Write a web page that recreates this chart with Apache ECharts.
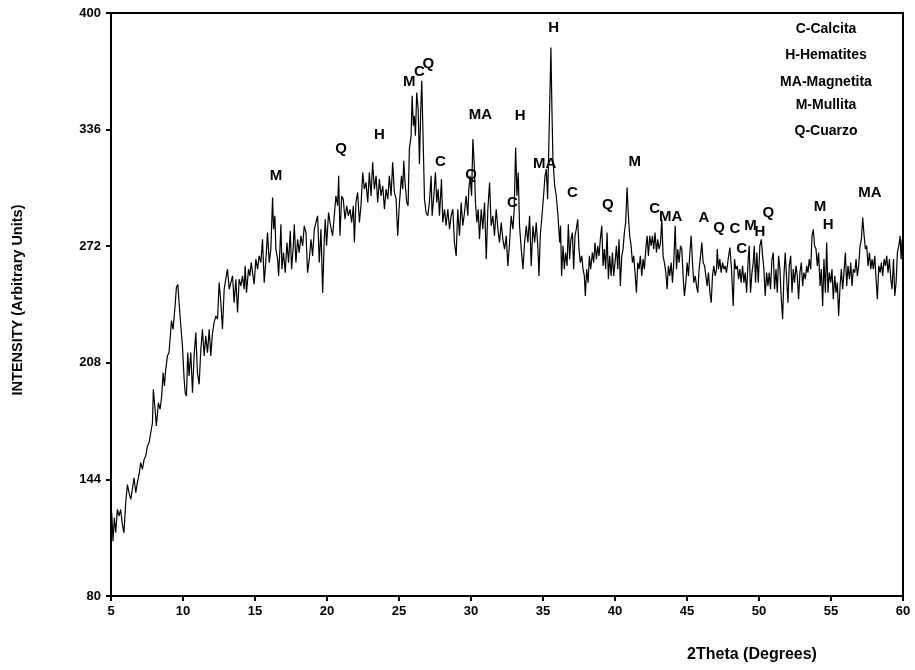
<!DOCTYPE html>
<html>
<head>
<meta charset="utf-8">
<script src="https://cdn.jsdelivr.net/npm/echarts@6/dist/echarts.min.js"></script>
<style>html,body{margin:0;padding:0;background:#fff}#c{width:915px;height:670px}</style>
</head>
<body>
<div id="c"></div>
<script>
// XRD pattern: [2Theta (deg), intensity (arbitrary units)]
const pattern = [
[5.05,125.7],[5.14,110.1],[5.23,123.0],[5.33,114.7],[5.44,127.5],[5.56,123.9],[5.67,127.5],[5.79,119.3],[5.90,114.7],[6.02,131.2],[6.14,141.2],[6.25,136.7],[6.37,133.0],[6.48,138.5],[6.60,144.9],[6.72,136.7],[6.83,142.2],[6.95,146.7],[7.06,153.2],[7.18,149.5],[7.30,155.0],[7.41,156.8],[7.53,162.3],[7.64,164.1],[7.76,169.6],[7.88,175.1],[7.94,193.4],[8.06,182.5],[8.15,173.3],[8.29,186.1],[8.41,182.5],[8.52,189.8],[8.62,202.6],[8.71,195.3],[8.80,204.4],[8.92,211.8],[9.03,213.6],[9.10,220.9],[9.20,231.0],[9.31,226.4],[9.45,239.2],[9.54,249.3],[9.64,251.1],[9.73,241.0],[9.85,228.2],[9.96,217.2],[10.08,198.9],[10.15,191.6],[10.24,189.8],[10.33,213.6],[10.42,200.8],[10.54,213.6],[10.66,191.6],[10.77,211.8],[10.89,224.6],[11.00,202.6],[11.12,196.2],[11.24,215.4],[11.35,226.4],[11.47,211.8],[11.58,222.8],[11.70,213.6],[11.82,226.4],[11.93,211.8],[12.05,224.6],[12.16,230.1],[12.28,233.7],[12.40,231.9],[12.51,252.0],[12.63,241.0],[12.74,226.4],[12.86,248.4],[12.97,253.9],[13.09,259.4],[13.21,248.4],[13.44,255.7],[13.55,241.0],[13.67,253.9],[13.79,235.6],
[13.90,253.9],[14.02,250.2],[14.13,255.7],[14.25,248.4],[14.32,261.2],[14.41,246.5],[14.55,259.4],[14.64,255.7],[14.74,263.0],[14.83,257.5],[14.94,251.1],[15.06,264.9],[15.18,259.4],[15.29,266.7],[15.41,263.0],[15.52,275.8],[15.64,252.0],[15.76,264.9],[15.87,279.5],[15.99,263.0],[16.10,270.4],[16.22,298.7],[16.29,281.3],[16.38,288.7],[16.45,270.4],[16.57,264.9],[16.64,255.7],[16.73,270.4],[16.80,284.1],[16.87,259.4],[16.98,268.5],[17.10,257.5],[17.22,274.0],[17.33,263.0],[17.45,280.4],[17.54,259.4],[17.66,272.2],[17.73,284.1],[17.84,263.0],[17.96,275.8],[18.07,268.5],[18.19,277.7],[18.31,272.2],[18.42,283.2],[18.54,279.5],[18.65,257.5],[18.77,264.9],[18.89,275.8],[19.00,266.7],[19.12,281.3],[19.23,285.0],[19.35,288.7],[19.46,263.0],[19.58,281.3],[19.70,246.5],[19.81,275.8],[19.88,286.8],[19.97,272.2],[20.11,290.5],[20.21,285.0],[20.30,281.3],[20.39,277.7],[20.51,277.7],[20.62,299.6],[20.74,294.2],[20.81,310.6],[20.90,277.7],[21.02,299.6],[21.13,297.8],[21.25,286.8],[21.37,294.2],[21.48,288.7],[21.60,292.3],[21.71,285.0],[21.83,294.2],[21.90,274.0],[22.01,296.0],[22.13,301.5],[22.25,285.0],[22.36,294.2],[22.48,312.5],[22.59,303.3],[22.71,307.0],[22.83,296.0],[22.94,312.5],[23.06,299.6],[23.17,318.0],[23.29,303.3],[23.41,310.6],[23.52,296.0],[23.64,308.8],[23.75,299.6],[23.87,305.1],[23.99,292.3],[24.10,303.3],[24.22,297.8],[24.33,310.6],[24.45,299.6],[24.56,318.0],[24.68,301.5],[24.80,297.8],[24.91,277.7],[25.03,296.0],
[25.07,299.7],[25.17,310.6],[25.26,303.3],[25.33,318.9],[25.42,307.0],[25.54,296.0],[25.63,294.2],[25.72,325.3],[25.84,332.6],[25.91,354.6],[26.00,338.1],[26.07,343.6],[26.14,332.6],[26.23,356.4],[26.33,347.3],[26.42,317.0],[26.51,347.3],[26.58,362.8],[26.67,332.6],[26.77,297.8],[26.88,290.5],[27.00,288.7],[27.11,296.0],[27.23,310.6],[27.30,288.7],[27.42,299.7],[27.53,312.5],[27.62,296.0],[27.72,303.3],[27.81,288.7],[27.95,308.8],[28.04,285.0],[28.16,292.3],[28.27,283.2],[28.39,292.3],[28.51,281.3],[28.62,288.7],[28.74,292.3],[28.85,274.0],[28.97,266.7],[29.08,292.3],[29.20,277.7],[29.32,296.0],[29.43,283.2],[29.55,290.5],[29.66,299.7],[29.78,288.7],[29.85,303.3],[29.94,310.6],[30.04,299.7],[30.13,330.8],[30.24,314.3],[30.31,296.0],[30.41,285.0],[30.50,292.3],[30.59,275.8],[30.71,292.3],[30.82,281.3],[30.94,296.0],[31.06,264.9],[31.17,292.3],[31.29,307.0],[31.40,283.2],[31.52,288.7],[31.63,277.7],[31.75,292.3],[31.87,281.3],[31.98,274.0],[32.10,285.0],[32.21,275.8],[32.33,270.4],[32.45,277.7],[32.56,261.2],[32.68,274.0],[32.79,288.7],[32.91,281.3],[33.00,292.3],[33.10,326.2],[33.19,299.7],[33.28,312.5],[33.37,283.2],[33.49,270.4],[33.61,259.4],[33.72,274.0],[33.84,283.2],[33.95,274.0],[34.07,288.7],[34.18,261.2],[34.30,283.2],[34.42,274.0],[34.53,285.0],[34.65,270.4],[34.72,255.7],[34.81,277.7],[34.93,288.7],[35.04,299.7],[35.14,310.6],[35.23,314.3],[35.32,297.8],[35.41,329.0],[35.51,365.6],[35.55,381.1],[35.62,347.3],[35.69,319.8],[35.81,305.2],[35.92,299.7],[36.04,288.7],[36.16,274.0],
[36.22,283.2],[36.29,255.7],[36.39,272.2],[36.48,259.4],[36.57,268.5],[36.67,261.2],[36.76,284.1],[36.85,264.9],[36.94,275.8],[37.04,279.5],[37.13,259.4],[37.22,277.7],[37.31,281.3],[37.41,286.8],[37.50,270.4],[37.59,263.0],[37.69,266.7],[37.78,259.4],[37.87,255.7],[37.94,244.7],[38.03,259.4],[38.13,252.0],[38.22,266.7],[38.31,259.4],[38.43,268.5],[38.52,263.0],[38.61,274.0],[38.71,264.9],[38.80,272.2],[38.89,266.7],[38.98,275.8],[39.08,283.2],[39.17,261.2],[39.26,270.4],[39.35,259.4],[39.45,279.5],[39.54,253.9],[39.63,266.7],[39.73,255.7],[39.82,268.5],[39.91,255.7],[40.00,263.0],[40.10,272.2],[40.19,259.4],[40.28,275.8],[40.37,250.2],[40.47,266.7],[40.56,270.4],[40.65,279.5],[40.74,285.0],[40.84,304.2],[40.93,288.7],[41.02,277.7],[41.12,272.2],[41.21,263.0],[41.30,266.7],[41.39,257.5],[41.49,246.5],[41.58,263.0],[41.67,259.4],[41.76,266.7],[41.86,255.7],[41.95,264.9],[42.04,259.4],[42.14,270.4],[42.23,277.7],[42.32,266.7],[42.41,277.7],[42.51,272.2],[42.60,277.7],[42.69,270.4],[42.78,279.5],[42.88,268.5],[42.97,275.8],[43.06,270.4],[43.16,274.0],[43.25,286.8],[43.34,266.7],[43.43,263.0],[43.53,257.5],[43.62,248.4],[43.71,261.2],[43.80,255.7],[43.90,263.0],[43.99,252.0],[44.08,263.0],[44.18,283.2],[44.27,259.4],[44.36,270.4],[44.45,263.0],[44.55,272.2],[44.64,270.4],[44.73,255.7],[44.82,244.7],[44.92,252.0],[45.01,263.0],[45.10,255.7],[45.20,268.5],[45.29,277.7],[45.38,263.0],[45.47,252.0],[45.57,255.7],[45.66,250.2],[45.75,246.5],[45.84,259.4],[45.94,266.7],[46.03,274.0],[46.12,263.0],[46.22,261.2],[46.31,255.7],[46.40,250.2],[46.49,257.5],[46.59,246.5],[46.68,241.0],[46.77,255.7],[46.86,261.2],[46.96,255.7],[47.05,259.4],
[47.10,270.4],[47.19,259.4],[47.28,264.9],[47.37,257.5],[47.47,263.0],[47.56,259.4],[47.65,261.2],[47.74,257.5],[47.86,264.9],[47.98,271.3],[48.09,259.4],[48.21,239.2],[48.30,264.9],[48.39,259.4],[48.49,261.2],[48.58,253.9],[48.67,259.4],[48.76,252.0],[48.86,261.2],[48.95,252.0],[49.04,257.5],[49.14,246.5],[49.25,264.9],[49.32,272.2],[49.41,246.5],[49.51,257.5],[49.60,263.0],[49.67,272.2],[49.76,252.0],[49.85,268.5],[49.95,252.0],[50.06,272.2],[50.16,275.8],[50.25,266.7],[50.34,259.4],[50.43,244.7],[50.53,257.5],[50.62,250.2],[50.71,257.5],[50.80,248.4],[50.90,264.9],[50.99,268.5],[51.08,248.4],[51.18,259.4],[51.27,246.5],[51.36,266.7],[51.45,259.4],[51.55,242.9],[51.64,231.9],[51.73,255.7],[51.82,268.5],[51.92,253.9],[52.01,241.0],[52.10,261.2],[52.20,266.7],[52.29,246.5],[52.38,259.4],[52.47,252.0],[52.57,261.2],[52.66,255.7],[52.75,242.9],[52.84,257.5],[52.94,263.0],[53.03,250.2],[53.12,257.5],[53.22,253.9],[53.31,261.2],[53.40,257.5],[53.49,264.9],[53.59,259.4],[53.68,277.7],[53.77,281.3],[53.86,272.2],[53.96,270.4],[54.05,261.2],[54.14,268.5],[54.24,250.2],[54.33,259.4],[54.42,239.2],[54.51,264.9],[54.61,246.5],[54.70,274.0],[54.79,246.5],[54.88,257.5],[54.98,252.0],[55.07,259.4],[55.16,242.9],[55.26,255.7],[55.35,246.5],[55.44,252.0],[55.53,233.7],[55.63,250.2],[55.72,259.4],[55.81,248.4],[55.90,257.5],[56.00,268.5],[56.09,250.2],[56.18,261.2],[56.28,253.9],[56.37,263.0],[56.46,250.2],[56.55,259.4],[56.65,257.5],[56.74,264.9],[56.83,255.7],[56.92,261.2],[57.02,272.2],[57.11,275.8],[57.20,287.7],[57.30,277.7],[57.39,270.4],[57.48,272.2],[57.57,261.2],[57.67,268.5],[57.76,259.4],[57.85,264.9],[57.94,259.4],[58.04,266.7],[58.13,253.9],[58.22,242.9],[58.32,261.2],[58.41,257.5],[58.50,263.0],[58.59,255.7],[58.69,264.9],[58.78,261.2],[58.87,266.7],[58.96,257.5],[59.06,264.9],[59.15,253.9],[59.24,248.4],[59.34,264.9],[59.43,244.7],[59.52,252.0],[59.61,268.5],[59.71,272.2],[59.80,277.7],[59.87,264.9],[59.94,275.8],[60.00,270.4]
];

// Phase labels placed over the peaks (2Theta, intensity)
const peakLabels = ['M','Q','H','M','C','Q','C','MA','Q','C','H','MA','H','C','Q','M','C','MA','A','Q','C','C','M','H','Q','M','H','MA'];
const peakTheta  = [16.45,20.97,23.64,25.72,26.42,27.04,27.88,30.66,30.01,32.87,33.42,35.11,35.74,37.04,39.51,41.37,42.76,43.87,46.17,47.23,48.32,48.79,49.41,50.06,50.64,54.24,54.81,57.71];
const peakInt    = [310.6,325.7,333.0,362.1,367.6,372.0,318.3,344.0,311.2,295.6,343.6,317.0,391.8,301.1,294.5,318.3,292.7,288.3,287.8,282.3,281.3,270.7,283.2,279.9,290.5,293.8,283.7,301.5];

const yTickValues = [80,144,208,272,336,400];
const phaseKey = ['C-Calcita','H-Hematites','MA-Magnetita','M-Mullita','Q-Cuarzo'];

const FONT = '"Liberation Sans", Arial, sans-serif';
const chart = echarts.init(document.getElementById('c'), null, {renderer:'canvas'});

const keyY = [29, 55, 82, 105, 131];

chart.setOption({
  animation: false,
  backgroundColor: '#fff',
  grid: {left: 111, right: 12, top: 13, bottom: 74, show: true, borderColor: '#000', borderWidth: 2, backgroundColor: 'transparent'},
  xAxis: {
    type: 'value', min: 5, max: 60, interval: 5,
    axisLine: {show: true, onZero: false, lineStyle: {color: '#000', width: 2}},
    axisTick: {show: true, length: 5, lineStyle: {color: '#000', width: 2}},
    axisLabel: {color: '#000', fontWeight: 'bold', fontSize: 13, fontFamily: FONT, margin: 9},
    splitLine: {show: false}
  },
  yAxis: {
    type: 'value', min: 80, max: 400,
    axisLine: {show: true, onZero: false, lineStyle: {color: '#000', width: 2}},
    axisTick: {show: true, length: 5, customValues: yTickValues, lineStyle: {color: '#000', width: 2}},
    axisLabel: {color: '#000', fontWeight: 'bold', fontSize: 13, fontFamily: FONT, margin: 10, customValues: yTickValues},
    splitLine: {show: false}
  },
  series: [
    {
      type: 'line', data: pattern, showSymbol: false, symbol: 'none',
      lineStyle: {color: '#000', width: 1.2}, silent: true
    },
    {
      type: 'scatter', symbolSize: 0, silent: true, z: 5,
      itemStyle: {opacity: 1},
      data: peakTheta.map((t, i) => [t, peakInt[i], peakLabels[i]]),
      label: {show: true, position: 'inside', opacity: 1, formatter: p => p.data[2], color: '#000', fontWeight: 'bold', fontSize: 15, fontFamily: FONT}
    }
  ],
  graphic: phaseKey.map((t, i) => ({
    type: 'text', x: 826, y: keyY[i],
    style: {text: t, fill: '#000', font: 'bold 14px ' + FONT, textAlign: 'center', textVerticalAlign: 'middle'}
  })).concat([{
    type: 'text', x: 752, y: 655,
    style: {text: '2Theta (Degrees)', fill: '#000', font: 'bold 16px ' + FONT, textAlign: 'center', textVerticalAlign: 'middle'}
  }, {
    type: 'text', x: 18, y: 300, rotation: Math.PI / 2,
    style: {text: 'INTENSITY (Arbitrary Units)', fill: '#000', font: 'bold 14.5px ' + FONT, textAlign: 'center', textVerticalAlign: 'middle'}
  }])
});
</script>
</body>
</html>
